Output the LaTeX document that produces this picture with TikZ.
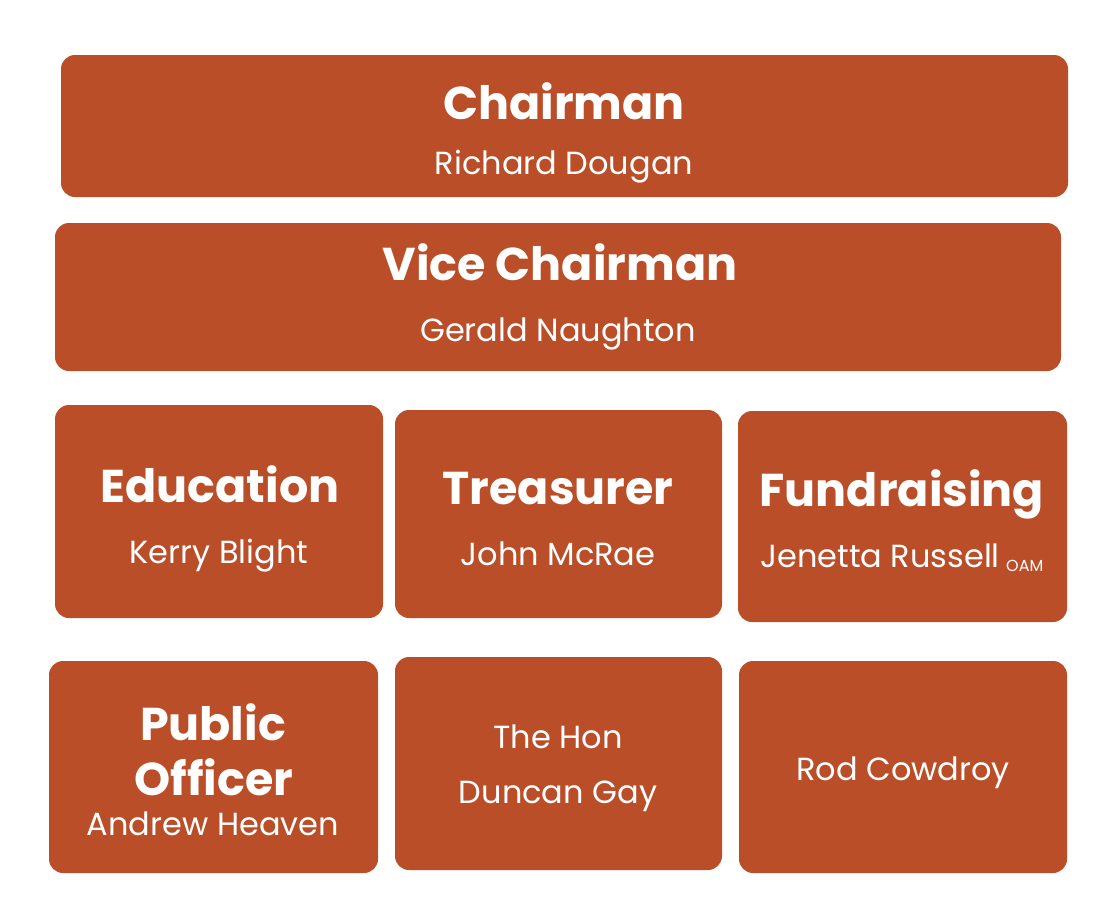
\documentclass[tikz,border=0pt]{standalone}
\usepackage{fontspec}
\setmainfont{Poppins}
\definecolor{boxfill}{HTML}{B94E28}
\begin{document}
\begin{tikzpicture}[x=1pt,y=-1pt,
  box/.style={fill=boxfill, draw=none, rounded corners=14pt, inner sep=0pt},
  ttl/.style={text=white, font=\fontsize{46}{50}\selectfont\bfseries, inner sep=0pt, anchor=base},
  nm/.style={text=white, font=\fontsize{32}{36}\selectfont, inner sep=0pt, anchor=base}]
\useasboundingbox (0,0) rectangle (1120,913);
\newcommand{\mybox}[5]{\node[box, minimum width=#4-#2, minimum height=#5-#3] (#1) at ({(#2+#4)/2},{(#3+#5)/2}) {};}
\mybox{chair}{61}{55}{1068}{197}
\mybox{vice}{55}{223}{1061}{371}
\mybox{edu}{55}{405}{383}{618}
\mybox{treas}{395}{410}{722}{618}
\mybox{fund}{738}{411}{1067}{622}
\mybox{pub}{49}{661}{378}{873}
\mybox{hon}{395}{657}{722}{870}
\mybox{rod}{739}{661}{1067}{873}

\node[ttl] (chairT) at (564,119) {Chairman};
\node[nm] (chairN) at (564,174) {Richard Dougan};
\node[ttl] (viceT) at (560,280) {Vice Chairman};
\node[nm] (viceN) at (558,341) {Gerald Naughton};
\node[ttl] (eduT) at (220,502) {Education};
\node[nm] (eduN) at (219,563) {Kerry Blight};
\node[ttl] (treasT) at (558,504) {Treasurer};
\node[nm] (treasN) at (558,565) {John McRae};
\node[ttl] (fundT) at (902,506) {Fundraising};
\node[nm] (fundN) at (880,567) {Jenetta Russell};
\node[text=white, font=\fontsize{16}{18}\selectfont, inner sep=0pt, anchor=base west] (oam) at (1006,571) {OAM};
\node[ttl] (pubT1) at (213,740) {Public};
\node[ttl] (pubT2) at (214,795) {Officer};
\node[nm] (pubN) at (213,835) {Andrew Heaven};
\node[nm] (honN1) at (558,748) {The Hon};
\node[nm] (honN2) at (558,803) {Duncan Gay};
\node[nm] (rodN) at (903,780) {Rod Cowdroy};
\end{tikzpicture}
\end{document}
